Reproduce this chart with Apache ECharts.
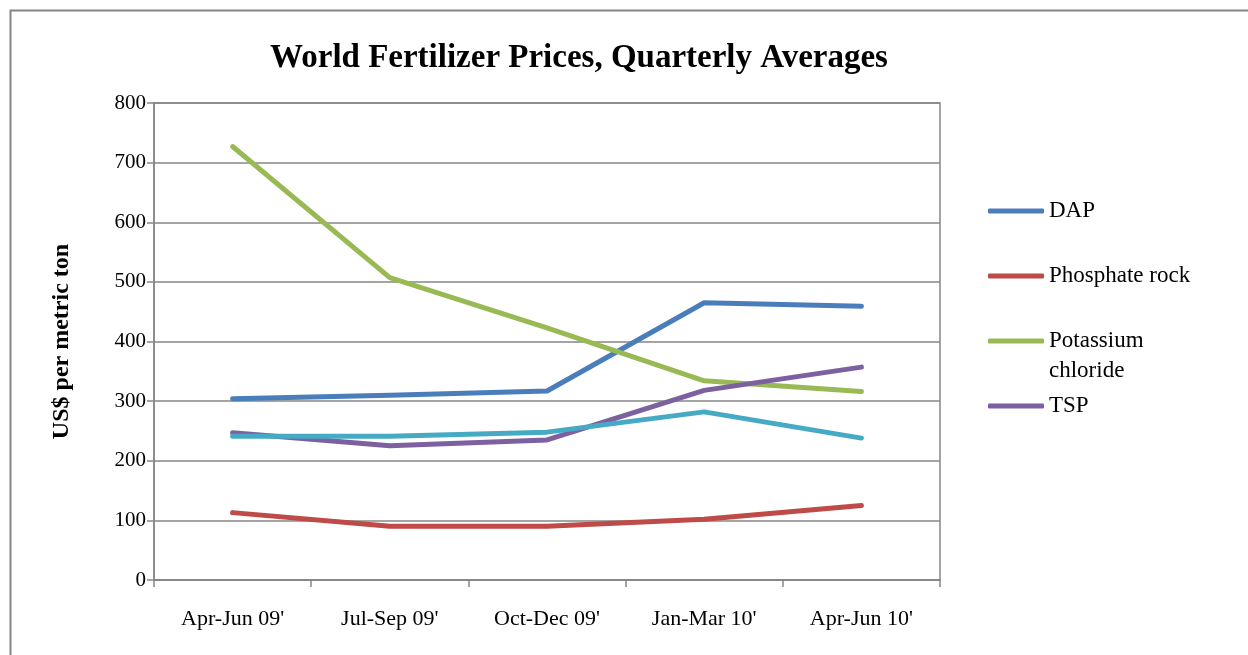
<!DOCTYPE html>
<html>
<head>
<meta charset="utf-8">
<script src="https://cdn.jsdelivr.net/npm/echarts@6/dist/echarts.min.js"></script>
<style>
  html, body { margin: 0; padding: 0; background: #fff; }
  #chart { width: 1248px; height: 655px; }
</style>
</head>
<body>
<div id="chart"></div>
<script>
var quarters = ["Apr-Jun 09'", "Jul-Sep 09'", "Oct-Dec 09'", "Jan-Mar 10'", "Apr-Jun 10'"];
var dap = [304, 310, 317, 465, 459];
var phosphateRock = [113, 90, 90, 102, 125];
var potassiumChloride = [727, 507, 423, 334, 316];
var tsp = [247, 225, 235, 318, 357];
var urea = [241, 241, 248, 282, 238];
var yTicks = [0, 100, 200, 300, 400, 500, 600, 700, 800];

var serif = 'Liberation Serif';
var gray = '#868686';

function lineSeries(name, data, color) {
    return {
        name: name,
        type: 'line',
        data: data,
        symbol: 'none',
        color: color,
        lineStyle: { width: 5, color: color, cap: 'round', join: 'round' }
    };
}

// one legend per entry so the gaps match the original
function legendItem(name, top, label) {
    return {
        data: [name],
        orient: 'vertical',
        left: 983,
        top: top,
        icon: 'roundRect',
        itemWidth: 56,
        itemHeight: 5,
        itemGap: 0,
        selectedMode: false,
        formatter: function () { return label; },
        textStyle: { fontFamily: serif, fontSize: 23, color: '#000', lineHeight: 30 }
    };
}

var chart = echarts.init(document.getElementById('chart'));
var option = {
    animation: false,
    backgroundColor: '#fff',
    title: {
        text: 'World Fertilizer Prices, Quarterly Averages',
        left: 574,
        top: 37,
        textAlign: 'center',
        textStyle: { fontFamily: serif, fontSize: 33, fontWeight: 'bold', color: '#000' }
    },
    graphic: [{
        type: 'rect',
        shape: { x: 10.5, y: 10.5, width: 1300, height: 700 },
        style: { fill: 'none', stroke: gray, lineWidth: 2 }
    }],
    grid: {
        left: 154, top: 103, width: 786, height: 477,
        show: true, borderColor: gray, borderWidth: 1.5, backgroundColor: 'transparent'
    },
    legend: [
        legendItem('DAP', 191, 'DAP'),
        legendItem('Phosphate rock', 256, 'Phosphate rock'),
        legendItem('Potassium chloride', 291, '\nPotassium\nchloride'),
        legendItem('TSP', 386, 'TSP')
    ],
    xAxis: {
        type: 'category',
        data: quarters,
        boundaryGap: true,
        axisLine: { lineStyle: { color: gray, width: 1.5 } },
        axisTick: { show: true, length: 7, lineStyle: { color: gray, width: 1.5 } },
        axisLabel: { fontFamily: serif, fontSize: 22, color: '#000', margin: 28 }
    },
    yAxis: {
        type: 'value',
        min: yTicks[0],
        max: yTicks[yTicks.length - 1],
        interval: 100,
        name: 'US$ per metric ton',
        nameLocation: 'middle',
        nameGap: 80,
        nameTextStyle: { fontFamily: serif, fontSize: 24, fontWeight: 'bold', color: '#000' },
        axisLine: { show: true, lineStyle: { color: gray, width: 1.5 } },
        axisTick: { show: true, length: 7, lineStyle: { color: gray, width: 1.5 } },
        splitLine: { lineStyle: { color: gray, width: 1.5 } },
        axisLabel: { fontFamily: serif, fontSize: 21, color: '#000', margin: 8 }
    },
    series: [
        lineSeries('DAP', dap, '#4a7ebb'),
        lineSeries('Phosphate rock', phosphateRock, '#be4b48'),
        lineSeries('Potassium chloride', potassiumChloride, '#98b954'),
        lineSeries('TSP', tsp, '#7d60a0'),
        lineSeries('Urea', urea, '#46aac5')
    ]
};
chart.setOption(option);
window.onresize = chart.resize;
</script>
</body>
</html>
